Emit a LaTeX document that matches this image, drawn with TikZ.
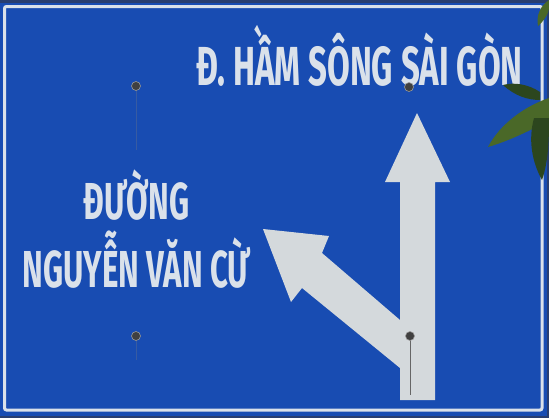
\documentclass[tikz,border=0pt]{standalone}
\usepackage{fontspec}
\usepackage{tikz}
\usetikzlibrary{positioning}
\newfontfamily\signfont[FakeStretch=0.6]{Fira Sans}
\definecolor{signblue}{RGB}{24,76,178}
\definecolor{signedge}{RGB}{40,62,112}
\definecolor{signwhite}{RGB}{218,225,234}
\definecolor{arrowgrey}{RGB}{212,217,220}
\definecolor{leafgreen}{RGB}{74,104,40}
\definecolor{leafdark}{RGB}{44,70,30}

\begin{document}
\begin{tikzpicture}[x=1pt,y=-1pt,
                    every node/.style={inner sep=0pt,text=signwhite},
                    toptext/.style={font=\signfont\bfseries\fontsize{55}{55}\selectfont},
                    lefttext/.style={font=\signfont\bfseries\fontsize{52}{52}\selectfont},
                    bolt/.style={fill=black!75,draw=black!40,line width=0.6pt}]
  \useasboundingbox (0,0) rectangle (549,418);
  \fill[signedge] (0,0) rectangle (549,418);
  \fill[signblue] (0,3) rectangle (547,416);
  \draw[signwhite,line width=3pt,rounded corners=2pt] (4.5,6.5) rectangle (542,410);

  % texts
  \node[toptext,anchor=base west] (tunnel) at (196,85) {Đ. HẦM SÔNG SÀI GÒN};
  \node[lefttext,anchor=base] (duong) at (136.5,219) {ĐƯỜNG};
  \node[lefttext,anchor=base] (nvc) at (136.5,287) {NGUYỄN VĂN CỪ};

  % arrows
  \fill[arrowgrey] (417,113) -- (450,182) -- (435,182) -- (435,400) -- (400,400)
    -- (400,368) -- (302,288) -- (291,302) -- (263,229) -- (329,236) -- (322,253)
    -- (400,320) -- (400,182) -- (385,182) -- cycle;

  % bolts
  \draw[black!60,line width=0.8pt] (410,340) -- (410,395);
  \draw[black!50,opacity=0.3,line width=1pt] (136,90) -- (136,150);
  \draw[black!50,opacity=0.3,line width=1pt] (136,340) -- (136,360);
  \foreach \bx/\by in {136/86, 136/336, 409/87, 410/336}
    \filldraw[bolt] (\bx,\by) circle (4.5);

  % leaves
  \fill[leafgreen] (549,98) .. controls (525,106) and (500,124) .. (488,147)
    .. controls (512,140) and (535,128) .. (549,120) -- cycle;
  \fill[leafdark] (540,92) .. controls (528,84) and (514,82) .. (503,85)
    .. controls (515,96) and (528,100) .. (540,100) -- cycle;
  \fill[leafdark] (534,118) .. controls (528,140) and (532,162) .. (542,180)
    .. controls (549,160) and (549,135) .. (549,118) -- cycle;
  \fill[leafgreen] (549,0) .. controls (540,6) and (536,16) .. (538,26)
    .. controls (545,20) and (549,12) .. (549,8) -- cycle;
\end{tikzpicture}
\end{document}
